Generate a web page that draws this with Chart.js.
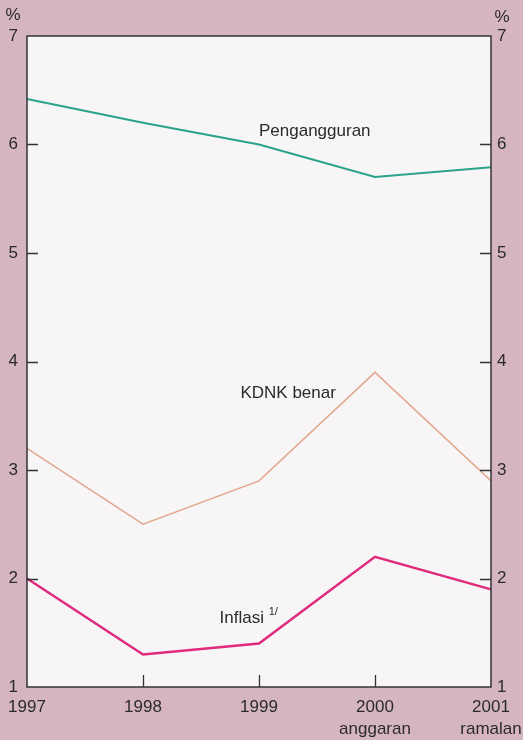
<!DOCTYPE html>
<html>
<head>
<meta charset="utf-8">
<script src="https://cdn.jsdelivr.net/npm/chart.js@4"></script>
<style>
  html, body { margin: 0; padding: 0; background: #d6b5c2; }
  #wrap { width: 523px; height: 740px; }
</style>
</head>
<body>
<div id="wrap"><canvas id="c" width="523" height="740"></canvas></div>
<script>
// data
const years = ['1997', '1998', '1999', ['2000', 'anggaran'], ['2001', 'ramalan']];
const pengangguran = [6.42, 6.2, 6.0, 5.7, 5.79];
const kdnkBenar = [3.2, 2.5, 2.9, 3.9, 2.9];
const inflasi = [2.0, 1.3, 1.4, 2.2, 1.9];
const yTicks = [1, 2, 3, 4, 5, 6, 7];

const FONT = '"Liberation Sans", Arial, sans-serif';
const INK = '#2b2b2b';

// background, frame, inner tick marks and line labels
const decor = {
  id: 'decor',
  beforeDraw(chart) {
    const { ctx, chartArea: a } = chart;
    ctx.save();
    ctx.fillStyle = '#d6b5c2';
    ctx.fillRect(0, 0, chart.width, chart.height);
    ctx.fillStyle = '#f7f5f6';
    ctx.fillRect(a.left, a.top, a.right - a.left, a.bottom - a.top);
    ctx.restore();
  },
  afterDatasetsDraw(chart) {
    const { ctx, chartArea: a, scales } = chart;
    const y = scales.y, x = scales.x;
    ctx.save();
    ctx.strokeStyle = '#333';
    ctx.lineWidth = 1.5;
    ctx.strokeRect(a.left, a.top, a.right - a.left, a.bottom - a.top);

    ctx.lineWidth = 1.3;
    ctx.beginPath();
    yTicks.slice(1, -1).forEach(v => {
      const py = Math.round(y.getPixelForValue(v)) + 0.5;
      ctx.moveTo(a.left, py); ctx.lineTo(a.left + 11, py);
      ctx.moveTo(a.right - 11, py); ctx.lineTo(a.right, py);
    });
    for (let i = 1; i < years.length - 1; i++) {
      const px = Math.round(x.getPixelForValue(i)) + 0.5;
      ctx.moveTo(px, a.bottom); ctx.lineTo(px, a.bottom - 12);
    }
    ctx.stroke();

    ctx.fillStyle = INK;
    ctx.font = '17px ' + FONT;
    ctx.textBaseline = 'middle';
    ctx.textAlign = 'center';
    ctx.fillText('%', 13, 15);
    ctx.fillText('%', 502, 17);

    ctx.textAlign = 'left';
    ctx.fillText('Pengangguran', x.getPixelForValue(2), y.getPixelForValue(6.12));
    ctx.fillText('KDNK benar', x.getPixelForValue(1.84), y.getPixelForValue(3.71));
    const ix = x.getPixelForValue(1.66), iy = y.getPixelForValue(1.63);
    ctx.fillText('Inflasi', ix, iy);
    const w = ctx.measureText('Inflasi ').width;
    ctx.font = '11px ' + FONT;
    ctx.fillText('1/', ix + w, iy - 7);
    ctx.restore();
  }
};

new Chart(document.getElementById('c'), {
  type: 'line',
  data: {
    labels: years,
    datasets: [
      { label: 'Pengangguran', data: pengangguran, borderColor: '#2ba38b', borderWidth: 2, pointRadius: 0, tension: 0 },
      { label: 'KDNK benar', data: kdnkBenar, borderColor: '#e2a88e', borderWidth: 1.5, pointRadius: 0, tension: 0 },
      { label: 'Inflasi', data: inflasi, borderColor: '#e02a7c', borderWidth: 2.5, pointRadius: 0, tension: 0 }
    ]
  },
  options: {
    responsive: false,
    animation: false,
    layout: { padding: { top: 36, left: 0, right: 0, bottom: 0 } },
    plugins: { legend: { display: false }, tooltip: { enabled: false } },
    scales: {
      x: {
        offset: false,
        grid: { display: false, drawTicks: false },
        border: { display: false },
        afterFit: s => { s.height = 53; s.paddingLeft = 0; s.paddingRight = 0; },
        ticks: {
          color: INK, font: { family: FONT, size: 17, lineHeight: 1.25 },
          padding: 10, maxRotation: 0, autoSkip: false
        }
      },
      y: {
        position: 'left', min: 1, max: 7,
        grid: { display: false, drawTicks: false },
        border: { display: false },
        afterFit: s => { s.width = 27; s.paddingTop = 0; s.paddingBottom = 0; },
        afterBuildTicks: s => { s.ticks = yTicks.map(v => ({ value: v })); },
        ticks: { color: INK, font: { family: FONT, size: 17 }, padding: 9 }
      },
      y2: {
        position: 'right', min: 1, max: 7,
        grid: { display: false, drawTicks: false },
        border: { display: false },
        afterFit: s => { s.width = 32; s.paddingTop = 0; s.paddingBottom = 0; },
        afterBuildTicks: s => { s.ticks = yTicks.map(v => ({ value: v })); },
        ticks: { color: INK, font: { family: FONT, size: 17 }, padding: 6 }
      }
    }
  },
  plugins: [decor]
});
</script>
</body>
</html>
